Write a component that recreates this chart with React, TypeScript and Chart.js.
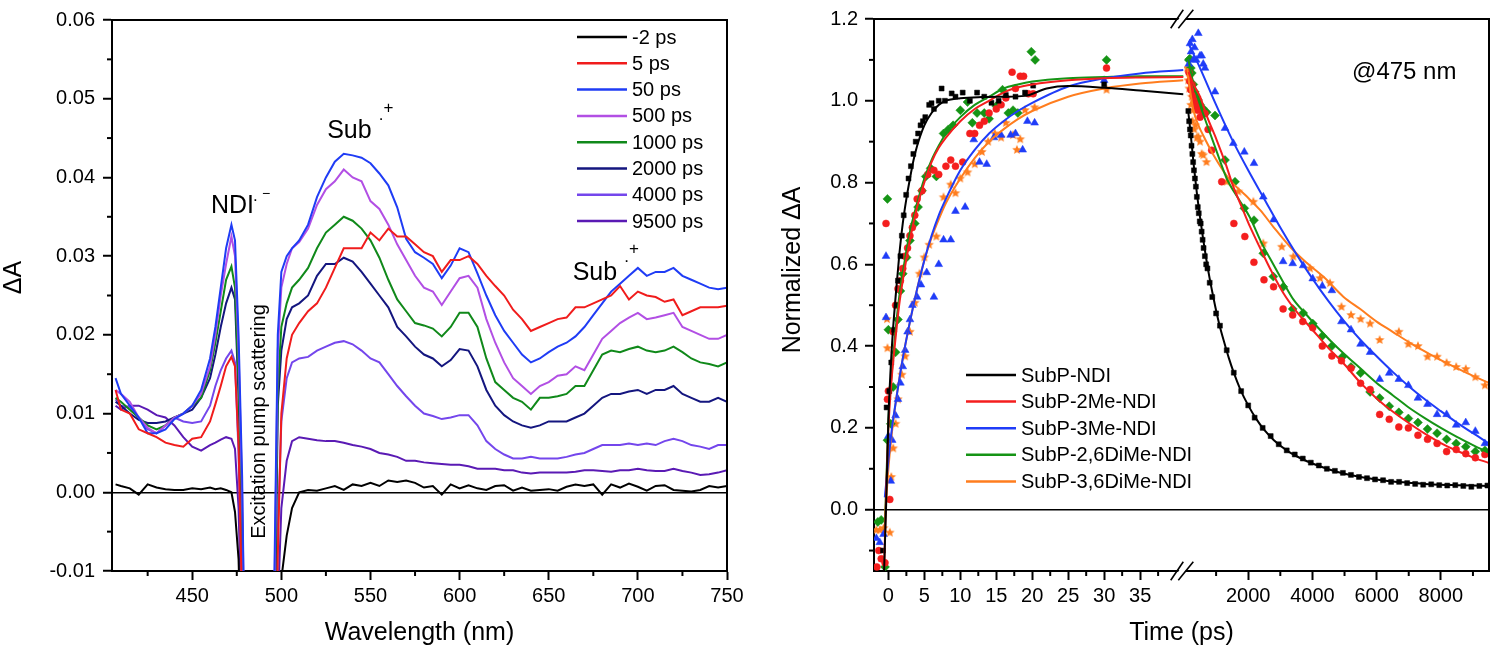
import React, { useEffect, useRef } from 'react';
import { Chart, registerables } from 'chart.js';

Chart.register(...registerables);

const FONT = "'Liberation Sans', Arial, Helvetica, sans-serif";

/* ================= Left panel: transient absorption spectra ================= */
const WL_BLUE = [407, 410, 415, 420, 425, 430, 435, 440, 445, 450, 455, 460, 463, 466, 469, 472, 474, 476, 478, 480];
const WL_RED = [496, 498, 500, 503, 506, 510, 515, 520, 525, 530, 535, 540, 545, 550, 555, 560, 565, 570, 575, 580, 585, 590, 595, 600, 605, 610, 615, 620, 625, 630, 635, 640, 645, 650, 655, 660, 665, 670, 675, 680, 685, 690, 695, 700, 705, 710, 715, 720, 725, 730, 735, 740, 745, 750];

const SPEC_LABELS = ['-2 ps', '5 ps', '50 ps', '500 ps', '1000 ps', '2000 ps', '4000 ps', '9500 ps'];
const SPEC_COLORS = ['#000000', '#f01c1c', '#1f3cf5', '#b24fe4', '#10891a', '#14167f', '#7446ec', '#5a1ab4'];

const M2_A = [0.0010, 0.0008, 0.0005, -0.0003, 0.0010, 0.0006, 0.0004, 0.0003, 0.0003, 0.0005, 0.0004, 0.0006, 0.0004, 0.0005, 0.0003, 0.0000, -0.0025, -0.0085, -0.0250, -0.0600];
const M2_B = [-0.0600, -0.0300, -0.0110, -0.0055, -0.0020, 0.0000, 0.0003, 0.0002, 0.0005, 0.0008, 0.0003, 0.0010, 0.0008, 0.0012, 0.0008, 0.0015, 0.0013, 0.0015, 0.0012, 0.0006, 0.0008, -0.0003, 0.0010, 0.0005, 0.0009, 0.0005, 0.0003, 0.0008, 0.0009, 0.0002, 0.0006, 0.0002, 0.0003, 0.0004, 0.0002, 0.0007, 0.0010, 0.0008, 0.0010, -0.0003, 0.0010, 0.0006, 0.0011, 0.0007, 0.0002, 0.0008, 0.0009, 0.0003, 0.0002, 0.0001, 0.0003, 0.0008, 0.0006, 0.0008];

const P5_A = [0.0130, 0.0105, 0.0100, 0.0080, 0.0075, 0.0070, 0.0063, 0.0060, 0.0058, 0.0068, 0.0070, 0.0090, 0.0112, 0.0135, 0.0160, 0.0172, 0.0160, 0.0060, -0.0150, -0.0500];
const P5_B = [-0.0400, -0.0080, 0.0100, 0.0170, 0.0200, 0.0215, 0.0230, 0.0240, 0.0260, 0.0285, 0.0310, 0.0310, 0.0310, 0.0330, 0.0320, 0.0335, 0.0325, 0.0325, 0.0315, 0.0305, 0.0300, 0.0280, 0.0295, 0.0295, 0.0300, 0.0290, 0.0275, 0.0262, 0.0250, 0.0232, 0.0220, 0.0205, 0.0210, 0.0215, 0.0220, 0.0222, 0.0235, 0.0235, 0.0240, 0.0245, 0.0250, 0.0262, 0.0245, 0.0255, 0.0250, 0.0248, 0.0242, 0.0245, 0.0225, 0.0230, 0.0235, 0.0235, 0.0235, 0.0237];

const P50_A = [0.0145, 0.0125, 0.0110, 0.0095, 0.0075, 0.0075, 0.0080, 0.0093, 0.0100, 0.0110, 0.0130, 0.0170, 0.0210, 0.0260, 0.0310, 0.0340, 0.0320, 0.0200, 0.0020, -0.0300];
const P50_B = [-0.0120, 0.0200, 0.0280, 0.0300, 0.0310, 0.0320, 0.0340, 0.0375, 0.0400, 0.0420, 0.0430, 0.0428, 0.0425, 0.0418, 0.0405, 0.0390, 0.0362, 0.0322, 0.0305, 0.0298, 0.0290, 0.0272, 0.0288, 0.0310, 0.0305, 0.0278, 0.0250, 0.0225, 0.0205, 0.0190, 0.0175, 0.0165, 0.0170, 0.0178, 0.0185, 0.0190, 0.0198, 0.0210, 0.0225, 0.0240, 0.0255, 0.0265, 0.0275, 0.0285, 0.0275, 0.0280, 0.0280, 0.0285, 0.0275, 0.0270, 0.0265, 0.0260, 0.0258, 0.0260];

const P500_A = [0.0130, 0.0125, 0.0115, 0.0095, 0.0082, 0.0075, 0.0085, 0.0095, 0.0100, 0.0110, 0.0125, 0.0160, 0.0200, 0.0250, 0.0290, 0.0325, 0.0300, 0.0180, 0.0000, -0.0300];
const P500_B = [-0.0150, 0.0180, 0.0260, 0.0290, 0.0310, 0.0318, 0.0335, 0.0365, 0.0385, 0.0395, 0.0410, 0.0400, 0.0395, 0.0370, 0.0360, 0.0340, 0.0315, 0.0295, 0.0275, 0.0260, 0.0255, 0.0238, 0.0255, 0.0272, 0.0275, 0.0260, 0.0220, 0.0190, 0.0165, 0.0145, 0.0135, 0.0125, 0.0135, 0.0140, 0.0148, 0.0150, 0.0160, 0.0155, 0.0175, 0.0195, 0.0205, 0.0215, 0.0222, 0.0228, 0.0220, 0.0222, 0.0225, 0.0228, 0.0210, 0.0205, 0.0200, 0.0195, 0.0195, 0.0200];

const P1000_A = [0.0120, 0.0115, 0.0105, 0.0095, 0.0085, 0.0080, 0.0085, 0.0095, 0.0100, 0.0110, 0.0120, 0.0155, 0.0190, 0.0230, 0.0270, 0.0287, 0.0260, 0.0140, -0.0030, -0.0300];
const P1000_B = [-0.0200, 0.0130, 0.0210, 0.0240, 0.0260, 0.0270, 0.0285, 0.0310, 0.0330, 0.0340, 0.0350, 0.0345, 0.0335, 0.0320, 0.0298, 0.0270, 0.0245, 0.0230, 0.0215, 0.0212, 0.0208, 0.0198, 0.0210, 0.0228, 0.0228, 0.0210, 0.0170, 0.0140, 0.0130, 0.0120, 0.0115, 0.0105, 0.0120, 0.0120, 0.0122, 0.0125, 0.0135, 0.0135, 0.0155, 0.0175, 0.0180, 0.0178, 0.0182, 0.0185, 0.0180, 0.0178, 0.0180, 0.0185, 0.0178, 0.0170, 0.0165, 0.0163, 0.0160, 0.0165];

const P2000_A = [0.0115, 0.0110, 0.0100, 0.0092, 0.0088, 0.0088, 0.0090, 0.0095, 0.0100, 0.0105, 0.0120, 0.0145, 0.0175, 0.0210, 0.0240, 0.0260, 0.0245, 0.0120, -0.0050, -0.0300];
const P2000_B = [-0.0250, 0.0110, 0.0180, 0.0220, 0.0235, 0.0240, 0.0250, 0.0275, 0.0290, 0.0290, 0.0298, 0.0293, 0.0280, 0.0265, 0.0250, 0.0235, 0.0210, 0.0198, 0.0185, 0.0175, 0.0170, 0.0160, 0.0168, 0.0182, 0.0180, 0.0160, 0.0130, 0.0110, 0.0098, 0.0090, 0.0085, 0.0082, 0.0085, 0.0090, 0.0090, 0.0090, 0.0095, 0.0100, 0.0110, 0.0120, 0.0125, 0.0125, 0.0128, 0.0130, 0.0125, 0.0130, 0.0130, 0.0135, 0.0125, 0.0120, 0.0115, 0.0115, 0.0120, 0.0115];

const P4000_A = [0.0118, 0.0110, 0.0108, 0.0095, 0.0080, 0.0075, 0.0085, 0.0095, 0.0090, 0.0088, 0.0090, 0.0110, 0.0135, 0.0155, 0.0170, 0.0180, 0.0165, 0.0050, -0.0150, -0.0400];
const P4000_B = [-0.0400, -0.0050, 0.0090, 0.0145, 0.0165, 0.0170, 0.0172, 0.0180, 0.0185, 0.0190, 0.0192, 0.0188, 0.0180, 0.0170, 0.0165, 0.0150, 0.0135, 0.0122, 0.0110, 0.0100, 0.0097, 0.0093, 0.0095, 0.0098, 0.0098, 0.0085, 0.0065, 0.0055, 0.0048, 0.0043, 0.0043, 0.0045, 0.0043, 0.0043, 0.0043, 0.0045, 0.0048, 0.0050, 0.0055, 0.0060, 0.0060, 0.0060, 0.0062, 0.0060, 0.0062, 0.0060, 0.0065, 0.0068, 0.0065, 0.0060, 0.0058, 0.0055, 0.0060, 0.0060];

const P9500_A = [0.0110, 0.0105, 0.0110, 0.0110, 0.0105, 0.0098, 0.0095, 0.0085, 0.0070, 0.0058, 0.0053, 0.0060, 0.0063, 0.0067, 0.0070, 0.0068, 0.0055, -0.0020, -0.0200, -0.0500];
const P9500_B = [-0.0600, -0.0150, -0.0020, 0.0040, 0.0065, 0.0070, 0.0068, 0.0066, 0.0065, 0.0065, 0.0063, 0.0060, 0.0058, 0.0055, 0.0050, 0.0048, 0.0045, 0.0040, 0.0040, 0.0038, 0.0037, 0.0036, 0.0035, 0.0035, 0.0033, 0.0030, 0.0030, 0.0030, 0.0028, 0.0028, 0.0025, 0.0024, 0.0025, 0.0025, 0.0025, 0.0025, 0.0026, 0.0028, 0.0028, 0.0027, 0.0026, 0.0028, 0.0028, 0.0030, 0.0028, 0.0027, 0.0027, 0.0030, 0.0027, 0.0025, 0.0022, 0.0023, 0.0025, 0.0028];

const WL_TICKS = [450, 500, 550, 600, 650, 700, 750];
const WL_MINOR = [425, 475, 525, 575, 625, 675, 725];
const DA_TICKS = [-0.01, 0, 0.01, 0.02, 0.03, 0.04, 0.05, 0.06];
const DA_MINOR = [-0.005, 0.005, 0.015, 0.025, 0.035, 0.045, 0.055];

/* ================= Right panel: kinetics @475 nm ================= */
const KIN_LABELS = ['SubP-NDI', 'SubP-2Me-NDI', 'SubP-3Me-NDI', 'SubP-2,6DiMe-NDI', 'SubP-3,6DiMe-NDI'];
const KIN_COLORS = ['#000000', '#f41e1e', '#1f3cf8', '#159415', '#ff7d1e'];

// [time (ps), normalized dA]
const NDI_RISE = [[-0.75, -0.1], [-0.25, 0.25], [0.13, 0.29], [0.4, 0.36], [0.8, 0.44], [1.13, 0.5], [1.33, 0.56], [1.67, 0.62], [1.87, 0.67], [2.13, 0.72], [2.47, 0.77], [2.8, 0.81], [3.13, 0.84], [3.47, 0.87], [3.8, 0.9], [4.13, 0.92], [4.47, 0.94], [4.8, 0.95], [5.13, 0.96], [5.67, 0.99], [6.0, 0.994], [6.33, 0.98], [7.0, 1.0], [7.4, 1.03], [7.86, 1.0], [8.8, 1.018], [9.33, 1.01], [10.33, 1.02], [11.33, 1.0], [12.33, 1.02], [13.33, 1.01], [14.33, 0.995], [15.33, 1.0], [16.33, 1.014], [17.67, 1.01], [19.0, 1.02], [20.13, 1.037], [30.0, 1.04]];
const NDI_RISE_FIT = [[-0.6, -0.15], [-0.3, 0.02], [0, 0.22], [0.3, 0.34], [0.6, 0.43], [1, 0.52], [1.5, 0.62], [2, 0.7], [2.5, 0.76], [3, 0.81], [3.5, 0.855], [4, 0.89], [5, 0.94], [6, 0.97], [7, 0.99], [8, 1.0], [10, 1.006], [13, 1.009], [16, 1.01], [19, 1.012], [22, 1.03], [25, 1.036], [30, 1.032], [35, 1.025], [41, 1.016]];
const NDI_DECAY = [[135, 0.975], [160, 0.95], [185, 0.93], [210, 0.915], [235, 0.89], [260, 0.87], [285, 0.85], [310, 0.83], [340, 0.81], [370, 0.79], [400, 0.765], [430, 0.74], [460, 0.725], [490, 0.705], [520, 0.7], [550, 0.68], [580, 0.66], [610, 0.64], [650, 0.62], [690, 0.6], [730, 0.59], [800, 0.555], [880, 0.52], [1000, 0.48], [1120, 0.45], [1330, 0.39], [1550, 0.335], [1780, 0.29], [2000, 0.255], [2200, 0.225], [2450, 0.2], [2700, 0.18], [2950, 0.16], [3200, 0.145], [3450, 0.135], [3700, 0.125], [3950, 0.115], [4200, 0.108], [4450, 0.1], [4700, 0.095], [4950, 0.09], [5200, 0.085], [5450, 0.08], [5700, 0.077], [5950, 0.074], [6200, 0.072], [6450, 0.068], [6700, 0.068], [6950, 0.065], [7200, 0.063], [7450, 0.061], [7700, 0.062], [7950, 0.06], [8200, 0.059], [8450, 0.06], [8700, 0.058], [8950, 0.056], [9200, 0.058], [9450, 0.059]];
const NDI_DECAY_FIT = [[130, 0.975], [200, 0.925], [300, 0.845], [400, 0.775], [500, 0.715], [600, 0.66], [700, 0.61], [800, 0.565], [900, 0.525], [1000, 0.487], [1100, 0.453], [1250, 0.41], [1400, 0.37], [1550, 0.335], [1750, 0.295], [2000, 0.255], [2250, 0.222], [2500, 0.195], [2800, 0.17], [3200, 0.145], [3600, 0.127], [4000, 0.113], [4500, 0.099], [5000, 0.088], [5500, 0.08], [6000, 0.074], [6500, 0.069], [7000, 0.066], [7500, 0.063], [8000, 0.061], [8500, 0.06], [9000, 0.059], [9500, 0.058]];

const M2_RISE = [[-1.6, -0.14], [-1.33, -0.1], [-1.0, -0.12], [-0.47, -0.13], [-0.33, 0.7], [-0.13, 0.27], [0.0, 0.29], [0.2, 0.025], [0.67, 0.435], [1.0, 0.5], [1.33, 0.54], [1.67, 0.56], [2.0, 0.59], [2.33, 0.62], [2.67, 0.64], [3.0, 0.67], [3.33, 0.69], [3.67, 0.72], [4.0, 0.76], [4.67, 0.78], [5.47, 0.82], [6.33, 0.83], [7.0, 0.82], [8.0, 0.84], [8.67, 0.855], [9.33, 0.84], [10.33, 0.85], [11.33, 0.92], [12.0, 0.92], [12.67, 0.94], [13.33, 0.95], [14.0, 0.97], [15.0, 0.98], [15.67, 0.99], [16.33, 1.007], [17.2, 1.07], [17.67, 1.03], [18.33, 1.06], [18.8, 1.06], [19.47, 1.017], [20.13, 1.017], [30.33, 1.08]];
const M2_RISE_FIT = [[-0.6, -0.15], [-0.3, 0.05], [0, 0.2], [0.5, 0.33], [1, 0.42], [1.5, 0.5], [2, 0.56], [3, 0.66], [4, 0.74], [5, 0.8], [6, 0.85], [7, 0.885], [8, 0.91], [10, 0.95], [12, 0.98], [14, 1.0], [16, 1.02], [18, 1.033], [20, 1.04], [25, 1.05], [30, 1.055], [35, 1.057], [41, 1.058]];
const M2_DECAY = [[150, 1.07], [182, 1.048], [213, 1.027], [250, 1.04], [287, 1.012], [330, 1.0], [362, 0.992], [400, 0.985], [436, 0.977], [500, 0.96], [585, 0.967], [654, 0.969], [750, 0.93], [862, 0.879], [1174, 0.802], [1553, 0.7], [1895, 0.668], [2178, 0.605], [2491, 0.562], [2790, 0.545], [3087, 0.491], [3385, 0.476], [3700, 0.46], [4010, 0.445], [4308, 0.4], [4606, 0.376], [4904, 0.364], [5202, 0.346], [5500, 0.309], [5797, 0.294], [6095, 0.233], [6393, 0.221], [6691, 0.202], [6989, 0.2], [7287, 0.182], [7585, 0.172], [7883, 0.162], [8180, 0.142], [8478, 0.147], [8776, 0.137], [9074, 0.127], [9372, 0.135]];
const M2_DECAY_FIT = [[140, 1.07], [300, 1.04], [500, 1.01], [700, 0.965], [1018, 0.904], [1300, 0.845], [1536, 0.79], [1800, 0.74], [2056, 0.692], [2400, 0.635], [2679, 0.59], [3093, 0.53], [3500, 0.485], [4000, 0.44], [4500, 0.395], [5000, 0.355], [5500, 0.31], [6000, 0.272], [6500, 0.24], [7000, 0.212], [7500, 0.186], [8000, 0.163], [8500, 0.144], [9000, 0.128], [9500, 0.114]];

const M3_RISE = [[-1.67, -0.07], [-1.2, -0.08], [-0.67, -0.06], [-0.33, 0.62], [-0.33, 0.47], [0.0, 0.18], [0.33, 0.07], [0.53, 0.17], [1.0, 0.23], [1.33, 0.27], [1.67, 0.31], [2.0, 0.35], [2.33, 0.39], [2.67, 0.435], [3.0, 0.465], [3.33, 0.5], [4.0, 0.52], [4.53, 0.55], [5.33, 0.58], [6.33, 0.52], [7.0, 0.6], [7.67, 0.66], [8.67, 0.66], [9.33, 0.73], [10.67, 0.74], [11.87, 0.905], [12.67, 0.85], [13.67, 0.845], [14.67, 0.91], [15.67, 0.916], [17.0, 0.916], [17.67, 0.92], [18.67, 0.88], [19.33, 0.95], [20.33, 0.946], [30.0, 1.05]];
const M3_RISE_FIT = [[-0.5, 0.03], [0, 0.12], [0.5, 0.2], [1, 0.26], [2, 0.37], [3, 0.46], [4, 0.54], [5, 0.61], [6, 0.67], [7, 0.72], [8, 0.76], [10, 0.83], [12, 0.88], [14, 0.92], [16, 0.95], [18, 0.975], [20, 0.995], [25, 1.035], [30, 1.055], [35, 1.067], [41, 1.075]];
const M3_DECAY = [[150, 1.09], [187, 1.14], [220, 1.12], [260, 1.15], [290, 1.1], [330, 1.13], [380, 1.1], [446, 1.165], [500, 1.11], [551, 1.11], [600, 1.09], [654, 1.08], [966, 1.022], [1277, 0.933], [1536, 0.896], [1879, 0.875], [2180, 0.847], [2470, 0.765], [2789, 0.709], [3087, 0.607], [3385, 0.602], [3712, 0.597], [4010, 0.565], [4308, 0.547], [4606, 0.536], [4904, 0.46], [5202, 0.44], [5500, 0.405], [5797, 0.385], [6095, 0.319], [6393, 0.334], [6691, 0.319], [6989, 0.304], [7287, 0.273], [7585, 0.258], [7883, 0.233], [8180, 0.233], [8478, 0.207], [8776, 0.213], [9074, 0.192], [9372, 0.162]];
const M3_DECAY_FIT = [[140, 1.14], [500, 1.08], [1000, 0.99], [1500, 0.905], [2000, 0.83], [2500, 0.76], [3000, 0.69], [3500, 0.625], [4000, 0.565], [4500, 0.51], [5000, 0.46], [5500, 0.415], [6000, 0.375], [6500, 0.337], [7000, 0.302], [7500, 0.27], [8000, 0.241], [8500, 0.213], [9000, 0.187], [9500, 0.162]];

const D26_RISE = [[-1.47, -0.03], [-1.0, -0.025], [-0.47, -0.14], [-0.13, 0.76], [0.0, 0.44], [-0.13, 0.17], [0.33, 0.21], [0.67, 0.3], [1.0, 0.385], [1.33, 0.465], [1.67, 0.535], [2.0, 0.577], [2.53, 0.617], [3.0, 0.658], [3.67, 0.7], [4.13, 0.74], [4.67, 0.78], [5.2, 0.815], [5.87, 0.835], [6.67, 0.815], [7.67, 0.92], [8.33, 0.93], [9.0, 0.94], [10.0, 0.977], [11.0, 0.997], [11.67, 0.946], [12.33, 0.97], [13.33, 0.97], [14.0, 0.956], [15.0, 0.987], [15.87, 1.027], [16.67, 0.97], [17.33, 0.977], [18.0, 0.97], [19.87, 1.12], [20.4, 1.1], [30.33, 1.1]];
const D26_RISE_FIT = [[-0.5, -0.05], [0, 0.22], [0.5, 0.34], [1, 0.44], [1.5, 0.52], [2, 0.58], [3, 0.68], [4, 0.75], [5, 0.81], [6, 0.855], [7, 0.89], [8, 0.92], [10, 0.96], [12, 0.99], [14, 1.01], [16, 1.03], [18, 1.04], [20, 1.047], [25, 1.055], [30, 1.058], [35, 1.06], [41, 1.06]];
const D26_DECAY = [[150, 1.1], [182, 1.103], [213, 1.08], [243, 1.068], [290, 1.04], [332, 1.022], [380, 1.01], [436, 1.002], [500, 0.99], [585, 0.982], [650, 0.975], [704, 0.972], [966, 0.964], [1277, 0.855], [1589, 0.802], [1879, 0.737], [2180, 0.708], [2470, 0.627], [2782, 0.57], [3093, 0.545], [3385, 0.491], [3712, 0.481], [4010, 0.455], [4308, 0.425], [4606, 0.4], [4934, 0.374], [5202, 0.349], [5500, 0.334], [5797, 0.288], [6095, 0.273], [6393, 0.253], [6691, 0.238], [6989, 0.223], [7287, 0.213], [7585, 0.197], [7883, 0.187], [8180, 0.172], [8478, 0.162], [8776, 0.154], [9074, 0.142], [9372, 0.145]];
const D26_DECAY_FIT = [[140, 1.1], [300, 1.04], [500, 0.99], [700, 0.945], [1000, 0.88], [1330, 0.81], [1700, 0.76], [2050, 0.715], [2400, 0.655], [2780, 0.6], [3100, 0.555], [3400, 0.515], [3800, 0.478], [4200, 0.443], [4600, 0.41], [5000, 0.38], [5500, 0.345], [6000, 0.31], [6500, 0.28], [7000, 0.25], [7500, 0.224], [8000, 0.2], [8500, 0.178], [9000, 0.158], [9500, 0.139]];

const D36_RISE = [[-1.67, -0.05], [-1.2, -0.05], [-0.67, -0.045], [-0.2, 0.466], [-0.13, 0.395], [0.2, -0.056], [0.4, 0.08], [0.67, 0.15], [1.0, 0.21], [1.33, 0.27], [1.87, 0.33], [2.33, 0.375], [3.0, 0.435], [3.67, 0.506], [4.33, 0.577], [5.0, 0.617], [5.67, 0.648], [6.67, 0.668], [7.67, 0.764], [8.67, 0.795], [9.33, 0.774], [10.0, 0.81], [11.0, 0.825], [12.0, 0.845], [13.0, 0.875], [13.87, 0.9], [14.8, 0.92], [15.67, 0.91], [16.33, 0.946], [17.33, 0.916], [17.87, 0.88], [18.33, 0.906], [19.0, 0.977], [20.33, 0.984], [30.33, 1.027]];
const D36_RISE_FIT = [[-0.5, -0.03], [0, 0.1], [0.5, 0.19], [1, 0.26], [2, 0.37], [3, 0.46], [4, 0.54], [5, 0.61], [6, 0.665], [7, 0.71], [8, 0.75], [10, 0.81], [12, 0.86], [14, 0.9], [16, 0.93], [18, 0.955], [20, 0.975], [25, 1.01], [30, 1.03], [35, 1.042], [41, 1.05]];
const D36_DECAY = [[100, 1.08], [130, 1.05], [160, 1.03], [187, 1.059], [215, 0.99], [240, 1.01], [265, 0.95], [290, 0.977], [320, 0.93], [360, 0.94], [400, 0.91], [446, 0.912], [500, 0.9], [550, 0.87], [601, 0.867], [700, 0.85], [1330, 0.802], [1692, 0.778], [2159, 0.753], [2470, 0.651], [3044, 0.643], [3405, 0.619], [3925, 0.59], [4237, 0.566], [4548, 0.554], [4904, 0.496], [5202, 0.476], [5500, 0.466], [5797, 0.455], [6095, 0.415], [6691, 0.435], [6989, 0.405], [7287, 0.4], [7585, 0.374], [7883, 0.374], [8180, 0.359], [8478, 0.349], [8776, 0.344], [9074, 0.324], [9372, 0.304]];
const D36_DECAY_FIT = [[100, 1.08], [200, 1.02], [300, 0.975], [450, 0.94], [600, 0.915], [900, 0.87], [1433, 0.806], [1900, 0.77], [2368, 0.733], [2800, 0.69], [3302, 0.643], [3800, 0.605], [4340, 0.57], [4963, 0.521], [5500, 0.49], [6000, 0.46], [6500, 0.435], [7000, 0.41], [7500, 0.387], [8000, 0.366], [8500, 0.346], [9000, 0.327], [9500, 0.31]];

const T_TICKS_EARLY = [0, 5, 10, 15, 20, 25, 30, 35];
const T_MINOR_EARLY = [2.5, 7.5, 12.5, 17.5, 22.5, 27.5, 32.5, 37.5];
const T_TICKS_LATE = [2000, 4000, 6000, 8000];
const T_MINOR_LATE = [1000, 3000, 5000, 7000, 9000];
const N_TICKS = [0, 0.2, 0.4, 0.6, 0.8, 1.0, 1.2];
const N_MINOR = [-0.1, 0.1, 0.3, 0.5, 0.7, 0.9, 1.1];

/* ================= helpers ================= */
const zip = (xs: number[], ys: number[]) => {
  const n = Math.min(xs.length, ys.length);
  const out: { x: number; y: number }[] = [];
  for (let i = 0; i < n; i++) out.push({ x: xs[i], y: ys[i] });
  return out;
};
const pairs = (arr: number[][]) => arr.map((p) => ({ x: p[0], y: p[1] }));

function makeStar(color: string, r: number) {
  const c = document.createElement('canvas');
  const size = Math.ceil(r * 2 + 2);
  c.width = size;
  c.height = size;
  const g = c.getContext('2d')!;
  g.fillStyle = color;
  g.beginPath();
  for (let k = 0; k < 10; k++) {
    const rr = k % 2 === 0 ? r : r * 0.45;
    const a = -Math.PI / 2 + (k * Math.PI) / 5;
    const px = size / 2 + rr * Math.cos(a);
    const py = size / 2 + rr * Math.sin(a);
    if (k === 0) g.moveTo(px, py);
    else g.lineTo(px, py);
  }
  g.closePath();
  g.fill();
  return c;
}

const tickFont = { family: FONT, size: 20 };

function yAxisCfg(min: number, max: number, ticks: number[], digits: number, width: number, pad: number) {
  return {
    type: 'linear',
    position: 'left',
    min,
    max,
    afterBuildTicks: (s: any) => {
      s.ticks = ticks.map((v) => ({ value: v }));
    },
    afterFit: (s: any) => {
      s.width = width;
    },
    ticks: { font: tickFont, color: '#000', padding: pad, callback: (v: any) => Number(v).toFixed(digits) },
    grid: {
      drawOnChartArea: true,
      color: (c: any) => (c.tick && Math.abs(c.tick.value) < 1e-9 ? '#000' : 'rgba(0,0,0,0)'),
      lineWidth: 1.5,
      tickLength: 9,
      tickWidth: 2,
      tickColor: '#000',
    },
    border: { display: true, color: '#000', width: 2 },
  };
}

function xAxisCfg(min: number, max: number, ticks: number[], extra: any = {}) {
  return {
    type: 'linear',
    position: 'bottom',
    min,
    max,
    afterBuildTicks: (s: any) => {
      s.ticks = ticks.map((v) => ({ value: v }));
    },
    afterFit: (s: any) => {
      s.height = 79;
    },
    ticks: { font: tickFont, color: '#000', padding: 4, maxRotation: 0, autoSkip: false, callback: (v: any) => String(v) },
    grid: { drawOnChartArea: false, tickLength: 9, tickWidth: 2, tickColor: '#000' },
    border: { display: true, color: '#000', width: 2 },
    ...extra,
  };
}

function line(ctx: CanvasRenderingContext2D, x1: number, y1: number, x2: number, y2: number) {
  ctx.beginPath();
  ctx.moveTo(x1, y1);
  ctx.lineTo(x2, y2);
  ctx.stroke();
}

function drawFrame(chart: any) {
  const { ctx, chartArea: a } = chart;
  ctx.save();
  ctx.strokeStyle = '#000';
  ctx.lineWidth = 2;
  ctx.lineCap = 'square';
  line(ctx, a.left, a.top, a.right, a.top);
  line(ctx, a.right, a.top, a.right, a.bottom);
  ctx.restore();
}

function drawMinor(chart: any, id: string, values: number[]) {
  const { ctx } = chart;
  const s = chart.scales[id];
  ctx.save();
  ctx.strokeStyle = '#000';
  ctx.lineWidth = 2;
  values.forEach((v) => {
    if (v < s.min || v > s.max) return;
    const p = s.getPixelForValue(v);
    if (s.isHorizontal()) line(ctx, p, s.top, p, s.top + 5);
    else line(ctx, s.right - 5, p, s.right, p);
  });
  ctx.restore();
}

function drawText(ctx: CanvasRenderingContext2D, text: string, x: number, y: number, size: number, align: CanvasTextAlign = 'left', baseline: CanvasTextBaseline = 'alphabetic', rot = 0) {
  ctx.save();
  ctx.fillStyle = '#000';
  ctx.font = `${size}px ${FONT}`;
  ctx.textAlign = align;
  ctx.textBaseline = baseline;
  ctx.translate(x, y);
  if (rot) ctx.rotate(rot);
  ctx.fillText(text, 0, 0);
  ctx.restore();
}

function drawLegend(chart: any, labels: string[], colors: string[], x0: number, y0: number, dy: number) {
  const { ctx } = chart;
  labels.forEach((lab, i) => {
    const y = y0 + i * dy;
    ctx.save();
    ctx.strokeStyle = colors[i];
    ctx.lineWidth = 2.5;
    line(ctx, x0, y, x0 + 50, y);
    ctx.restore();
    drawText(ctx, lab, x0 + 55, y + 1, 20, 'left', 'middle');
  });
}

function drawBreak(ctx: CanvasRenderingContext2D, x: number, y: number) {
  ctx.save();
  ctx.fillStyle = '#fff';
  ctx.beginPath();
  ctx.moveTo(x - 11.5, y + 9);
  ctx.lineTo(x + 1, y - 9);
  ctx.lineTo(x + 7.5, y - 9);
  ctx.lineTo(x - 5, y + 9);
  ctx.closePath();
  ctx.fill();
  ctx.strokeStyle = '#000';
  ctx.lineWidth = 1.6;
  line(ctx, x - 13.3, y + 9.3, x - 0.7, y - 9.3);
  line(ctx, x - 5.7, y + 9.3, x + 9.3, y - 9.3);
  ctx.restore();
}

/* ================= chart configs ================= */
function leftConfig() {
  const series = [
    [M2_A, M2_B],
    [P5_A, P5_B],
    [P50_A, P50_B],
    [P500_A, P500_B],
    [P1000_A, P1000_B],
    [P2000_A, P2000_B],
    [P4000_A, P4000_B],
    [P9500_A, P9500_B],
  ];
  const datasets: any[] = [];
  series.forEach((pair, i) => {
    const base = { showLine: true, pointRadius: 0, borderColor: SPEC_COLORS[i], borderWidth: 2, tension: 0, fill: false, label: SPEC_LABELS[i] };
    datasets.push({ ...base, data: zip(WL_BLUE, pair[0]) });
    datasets.push({ ...base, data: zip(WL_RED, pair[1]) });
  });

  const decor = {
    id: 'leftDecor',
    afterDraw(chart: any) {
      const { ctx, chartArea: a, scales } = chart;
      drawFrame(chart);
      drawMinor(chart, 'x', WL_MINOR);
      drawMinor(chart, 'y', DA_MINOR);
      const X = (v: number) => scales.x.getPixelForValue(v);
      const Y = (v: number) => scales.y.getPixelForValue(v);
      drawText(ctx, 'Wavelength (nm)', (a.left + a.right) / 2, a.bottom + 62, 25, 'center', 'middle');
      drawText(ctx, '\u0394A', 14, (a.top + a.bottom) / 2 - 18, 25, 'center', 'middle', -Math.PI / 2);
      const nx = X(460.5), ny = Y(0.0355);
      drawText(ctx, 'NDI', nx, ny, 25);
      drawText(ctx, '.', nx + 42, ny - 12, 17);
      drawText(ctx, '\u2212', nx + 51, ny - 15, 14);
      [[525.7, 0.045], [663.4, 0.027]].forEach(([wx, wy]) => {
        const sx = X(wx), sy = Y(wy);
        drawText(ctx, 'Sub', sx, sy, 25);
        drawText(ctx, '.', sx + 51.5, sy - 18, 17);
        drawText(ctx, '+', sx + 56.3, sy - 25.4, 17);
      });
      drawText(ctx, 'Excitation pump scattering', X(487.7), Y(0.009), 20, 'center', 'middle', -Math.PI / 2);
      drawLegend(chart, SPEC_LABELS, SPEC_COLORS, a.right - 150, a.top + 17, 26.3);
    },
  };

  return {
    type: 'scatter',
    data: { datasets },
    options: {
      animation: false,
      responsive: false,
      events: [],
      layout: { padding: { left: 0, top: 19, right: 23, bottom: 0 } },
      plugins: { legend: { display: false }, tooltip: { enabled: false } },
      scales: {
        x: xAxisCfg(405, 750, WL_TICKS),
        y: yAxisCfg(-0.01, 0.06, DA_TICKS, 2, 112, 8),
      },
    },
    plugins: [decor],
  };
}

function rightConfig() {
  const star = makeStar(KIN_COLORS[4], 5);
  const styles: any[] = ['rect', 'circle', 'triangle', 'rectRot', star];
  const radii = [3.5, 3.5, 4.5, 4.5, 5];
  const table = [
    [NDI_RISE, NDI_RISE_FIT, NDI_DECAY, NDI_DECAY_FIT],
    [M2_RISE, M2_RISE_FIT, M2_DECAY, M2_DECAY_FIT],
    [M3_RISE, M3_RISE_FIT, M3_DECAY, M3_DECAY_FIT],
    [D26_RISE, D26_RISE_FIT, D26_DECAY, D26_DECAY_FIT],
    [D36_RISE, D36_RISE_FIT, D36_DECAY, D36_DECAY_FIT],
  ];
  const datasets: any[] = [];
  table.forEach((rows, i) => {
    const color = KIN_COLORS[i];
    const pt = {
      showLine: false,
      pointStyle: styles[i],
      pointRadius: radii[i],
      pointBackgroundColor: color,
      pointBorderColor: color,
      pointBorderWidth: 0.5,
      order: 2,
      label: KIN_LABELS[i],
    };
    const ln = { showLine: true, pointRadius: 0, borderColor: color, borderWidth: 2, cubicInterpolationMode: 'monotone', order: 1, label: KIN_LABELS[i] };
    datasets.push({ ...pt, xAxisID: 'x1', data: pairs(rows[0]) });
    datasets.push({ ...ln, xAxisID: 'x1', data: pairs(rows[1]) });
    datasets.push({ ...pt, xAxisID: 'x2', data: pairs(rows[2]) });
    datasets.push({ ...ln, xAxisID: 'x2', data: pairs(rows[3]) });
  });

  const decor = {
    id: 'rightDecor',
    afterDraw(chart: any) {
      const { ctx, chartArea: a, scales } = chart;
      drawFrame(chart);
      drawMinor(chart, 'x1', T_MINOR_EARLY);
      drawMinor(chart, 'x2', T_MINOR_LATE);
      drawMinor(chart, 'y', N_MINOR);
      const bx = scales.x1.right;
      drawBreak(ctx, bx, a.bottom);
      drawBreak(ctx, bx, a.top);
      drawText(ctx, 'Time (ps)', (a.left + a.right) / 2, a.bottom + 62, 25, 'center', 'middle');
      drawText(ctx, 'Normalized \u0394A', 43, (a.top + a.bottom) / 2 - 25, 25, 'center', 'middle', -Math.PI / 2);
      drawText(ctx, '@475 nm', scales.x2.getPixelForValue(5234), scales.y.getPixelForValue(1.053), 24);
      drawLegend(chart, KIN_LABELS, KIN_COLORS, a.left + 92, a.top + 356, 26.6);
    },
  };

  return {
    type: 'scatter',
    data: { datasets },
    options: {
      animation: false,
      responsive: false,
      events: [],
      layout: { padding: { left: 0, top: 19, right: 11, bottom: 0 } },
      plugins: { legend: { display: false }, tooltip: { enabled: false } },
      scales: {
        x1: xAxisCfg(-2, 41.1, T_TICKS_EARLY, { stack: 'time', stackWeight: 310 }),
        x2: xAxisCfg(0, 9500, T_TICKS_LATE, { stack: 'time', stackWeight: 305 }),
        y: yAxisCfg(-0.15, 1.2, N_TICKS, 1, 124, 7),
      },
    },
    plugins: [decor],
  };
}

function ChartCanvas({ make, left }: { make: () => any; left: number }) {
  const ref = useRef<HTMLCanvasElement | null>(null);
  useEffect(() => {
    if (!ref.current) return;
    const chart = new Chart(ref.current, make());
    return () => chart.destroy();
  }, [make]);
  return (
    <canvas
      ref={ref}
      width={750}
      height={650}
      style={{ position: 'absolute', left, top: 0, width: 750, height: 650, display: 'block' }}
    />
  );
}

export default function App() {
  return (
    <div style={{ position: 'absolute', left: 0, top: 0, width: 1500, height: 650, background: '#fff', overflow: 'hidden' }}>
      <ChartCanvas make={leftConfig} left={0} />
      <ChartCanvas make={rightConfig} left={750} />
    </div>
  );
}
